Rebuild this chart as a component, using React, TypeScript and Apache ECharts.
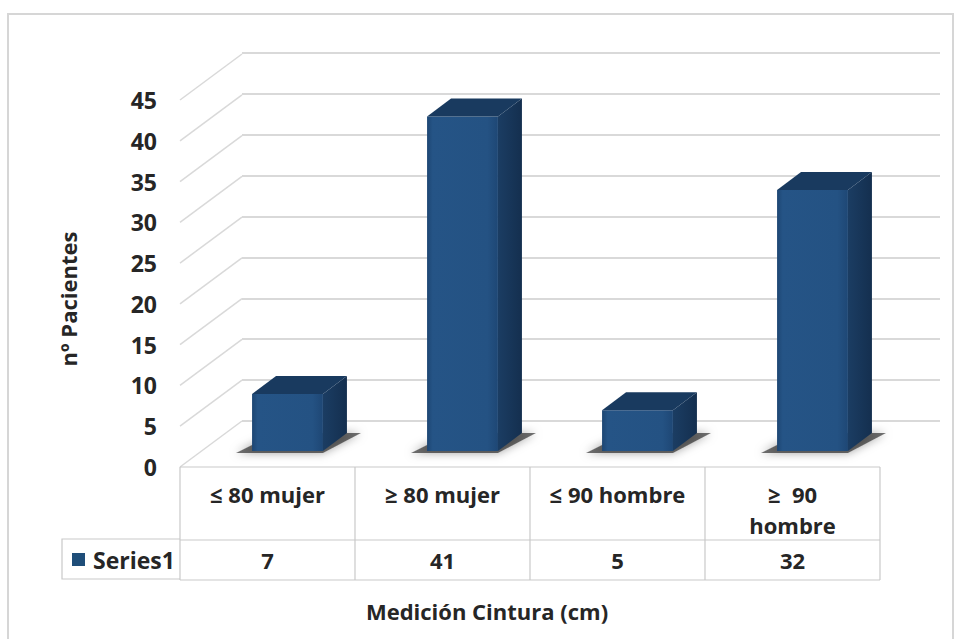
import React, { useEffect, useRef } from "react";
import * as echarts from "echarts";

// Waist measurement groups and patient counts
const categories = ["≤ 80 mujer", "≥ 80 mujer", "≤ 90 hombre", "≥  90\nhombre"];
const seriesName = "Series1";
const values = [7, 41, 5, 32];
const yMax = 45;
const yStep = 5;
const yTicks = [0, 5, 10, 15, 20, 25, 30, 35, 40, 45];
const yAxisTitle = "nº Pacientes";
const xAxisTitle = "Medición Cintura (cm)";

const FONT = "'Open Sans', 'Liberation Sans', sans-serif";
const TEXT = "#262626";
const GRID_LINE = "#d9d9d9";
const TABLE_LINE = "#c9c9c9";

// depth offsets of the 3D plot box (front plane -> back wall, front plane -> bar face)
const BACK_DX = 62;
const BACK_DY = -46;
const BAR_DX = 20;
const BAR_DY = -16;
const BAR_DEPTH_X = 24;
const BAR_DEPTH_Y = -18;

const ROW1_H = 73;
const ROW2_H = 40;

export default function App() {
  const ref = useRef<HTMLDivElement>(null);

  useEffect(() => {
    if (!ref.current) return;
    const chart = echarts.init(ref.current, undefined, { renderer: "svg" });

    const barData = values.map((v, i) => [i, v]);

    const option: any = {
      animation: false,
      backgroundColor: "#ffffff",
      textStyle: { fontFamily: FONT },
      grid: [
        // back wall
        { left: 242, right: 17, top: 53, bottom: 218 },
        // front plane (axis labels, bars, data table)
        { left: 180, right: 77, top: 100, bottom: 172 },
      ],
      xAxis: [
        { type: "value", gridIndex: 0, show: false, min: 0, max: 1 },
        {
          type: "category",
          gridIndex: 1,
          data: categories,
          axisLine: { show: false },
          axisTick: { show: false },
          axisLabel: { show: false },
          splitLine: { show: false },
        },
      ],
      yAxis: [
        {
          type: "value",
          gridIndex: 0,
          min: 0,
          max: yMax,
          interval: yStep,
          axisLine: { show: false },
          axisTick: { show: false },
          axisLabel: { show: false },
          splitLine: { show: true, lineStyle: { color: GRID_LINE, width: 2 } },
        },
        {
          type: "value",
          gridIndex: 1,
          min: 0,
          max: yMax,
          interval: yStep,
          axisLine: { show: false },
          axisTick: { show: false },
          splitLine: { show: false },
          axisLabel: {
            margin: 23,
            color: TEXT,
            fontFamily: FONT,
            fontWeight: "bold",
            fontSize: 23,
          },
        },
      ],
      series: [
        // side-wall guide lines joining each tick to the back wall
        {
          type: "custom",
          xAxisIndex: 1,
          yAxisIndex: 1,
          silent: true,
          z: 1,
          data: yTicks.map((t) => [0, t]),
          renderItem: (params: any, api: any) => {
            const p = api.coord([0, api.value(1)]);
            const x0 = params.coordSys.x;
            return {
              type: "line",
              shape: { x1: x0, y1: p[1], x2: x0 + BACK_DX, y2: p[1] + BACK_DY },
              style: { stroke: GRID_LINE, lineWidth: 1.5 },
            };
          },
        },
        // 3D columns
        {
          type: "custom",
          name: seriesName,
          xAxisIndex: 1,
          yAxisIndex: 1,
          z: 3,
          data: barData,
          renderItem: (params: any, api: any) => {
            const idx = api.value(0);
            const v = api.value(1);
            const top = api.coord([idx, v]);
            const base = api.coord([idx, 0]);
            const bw = api.size([1, 0])[0] * 0.405;
            const cx = top[0] + BAR_DX;
            const xl = cx - bw / 2;
            const xr = cx + bw / 2;
            const yt = top[1] + BAR_DY;
            const yb = base[1] + BAR_DY;
            const dx = BAR_DEPTH_X;
            const dy = BAR_DEPTH_Y;
            return {
              type: "group",
              children: [
                // soft floor shadow
                {
                  type: "polygon",
                  shape: {
                    points: [
                      [xl - 16, yb + 2],
                      [xr, yb + 2],
                      [xr + dx + 14, yb + dy],
                      [xl + dx, yb + dy],
                    ],
                  },
                  style: {
                    fill: "rgba(20,20,20,0.6)",
                    shadowBlur: 10,
                    shadowColor: "rgba(0,0,0,0.6)",
                  },
                },
                {
                  type: "polygon",
                  shape: {
                    points: [
                      [xr, yt],
                      [xr + dx, yt + dy],
                      [xr + dx, yb + dy],
                      [xr, yb],
                    ],
                  },
                  style: {
                    fill: new echarts.graphic.LinearGradient(0, 0, 1, 0, [
                      { offset: 0, color: "#1b3d63" },
                      { offset: 1, color: "#142f4f" },
                    ]),
                  },
                },
                {
                  type: "rect",
                  shape: { x: xl, y: yt, width: bw, height: yb - yt },
                  style: {
                    fill: new echarts.graphic.LinearGradient(0, 0, 1, 0, [
                      { offset: 0, color: "#1d4673" },
                      { offset: 0.08, color: "#255486" },
                      { offset: 0.85, color: "#245283" },
                      { offset: 1, color: "#1e4775" },
                    ]),
                  },
                },
                {
                  type: "polygon",
                  shape: {
                    points: [
                      [xl, yt],
                      [xr, yt],
                      [xr + dx, yt + dy],
                      [xl + dx, yt + dy],
                    ],
                  },
                  style: { fill: "#193a5f" },
                },
              ],
            };
          },
        },
        // data table: category row and value row, one column per category
        {
          type: "custom",
          xAxisIndex: 1,
          yAxisIndex: 1,
          silent: true,
          z: 2,
          data: barData,
          renderItem: (params: any, api: any) => {
            const idx = api.value(0);
            const v = api.value(1);
            const c = api.coord([idx, 0]);
            const w = api.size([1, 0])[0];
            const x1 = c[0] - w / 2;
            const x2 = c[0] + w / 2;
            const yTop = params.coordSys.y + params.coordSys.height;
            const yMid = yTop + ROW1_H;
            const yBot = yMid + ROW2_H;
            const ls = { stroke: TABLE_LINE, lineWidth: 1.2 };
            const children: any[] = [
              { type: "line", shape: { x1, y1: yTop, x2, y2: yTop }, style: ls },
              { type: "line", shape: { x1, y1: yMid, x2, y2: yMid }, style: ls },
              { type: "line", shape: { x1, y1: yBot, x2, y2: yBot }, style: ls },
              { type: "line", shape: { x1: x2, y1: yTop, x2: x2, y2: yBot }, style: ls },
              {
                type: "text",
                style: {
                  x: c[0],
                  y: yTop + 11,
                  text: categories[idx],
                  align: "center",
                  verticalAlign: "top",
                  lineHeight: 31,
                  fill: TEXT,
                  font: `bold 22px ${FONT}`,
                },
              },
              {
                type: "text",
                style: {
                  x: c[0],
                  y: yMid + ROW2_H / 2,
                  text: String(v),
                  align: "center",
                  verticalAlign: "middle",
                  fill: TEXT,
                  font: `bold 22px ${FONT}`,
                },
              },
            ];
            if (idx === 0) {
              children.push({
                type: "line",
                shape: { x1, y1: yTop, x2: x1, y2: yBot },
                style: ls,
              });
            }
            return { type: "group", children };
          },
        },
      ],
      graphic: [
        // chart area frame
        {
          type: "rect",
          shape: { x: 8, y: 14, width: 945, height: 640 },
          style: { fill: "none", stroke: "#d6d6d6", lineWidth: 2 },
          silent: true,
          z: -1,
        },
        // legend key cell of the data table
        {
          type: "polyline",
          shape: { points: [[180, 539], [62, 539], [62, 579], [180, 579]] },
          style: { fill: "none", stroke: TABLE_LINE, lineWidth: 1.2 },
          silent: true,
        },
        {
          type: "rect",
          shape: { x: 72, y: 553, width: 13, height: 13 },
          style: { fill: "#1f4e79" },
        },
        {
          type: "text",
          style: {
            x: 93,
            y: 560,
            text: seriesName,
            align: "left",
            verticalAlign: "middle",
            fill: TEXT,
            font: `bold 23px ${FONT}`,
          },
        },
        // axis titles
        {
          type: "text",
          x: 68,
          y: 299,
          rotation: Math.PI / 2,
          style: {
            text: yAxisTitle,
            align: "center",
            verticalAlign: "middle",
            fill: TEXT,
            font: `bold 22px ${FONT}`,
          },
        },
        {
          type: "text",
          style: {
            x: 487,
            y: 611,
            text: xAxisTitle,
            align: "center",
            verticalAlign: "middle",
            fill: TEXT,
            font: `bold 22px ${FONT}`,
          },
        },
      ],
    };

    chart.setOption(option);
    return () => chart.dispose();
  }, []);

  return (
    <div
      ref={ref}
      style={{ position: "fixed", left: 0, top: 0, width: 957, height: 639 }}
    />
  );
}
